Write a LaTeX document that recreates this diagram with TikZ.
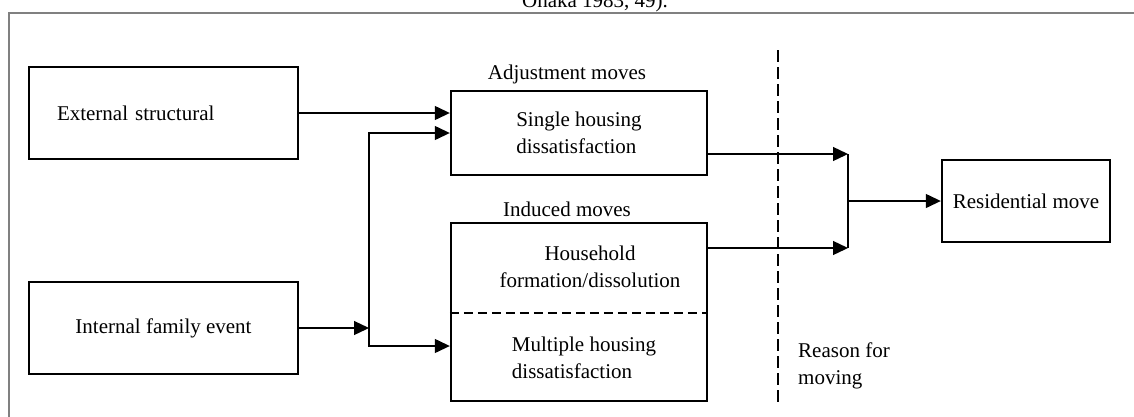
\documentclass[tikz,border=0pt]{standalone}
\usepackage{fontspec}
\setmainfont{Liberation Serif}
\usetikzlibrary{arrows.meta}

\begin{document}
\begin{tikzpicture}[x=1pt, y=-1pt, >={Triangle[length=15pt,width=14pt]},
        font=\fontsize{21}{27}\selectfont,
        box/.style={draw, line width=2.4pt, inner sep=0pt},
        lbl/.style={inner sep=0pt},
        link/.style={line width=1.3pt}]
        \useasboundingbox (0,0) rectangle (1134,416);
        \clip (0,0) rectangle (1134,416);
        % caption remnant and frame
        \node[lbl, anchor=base] (cap) at (595,7) {Ohaka 1983, 49).};
        \draw[line width=2pt, gray] (8.5,500) -- (8.5,12.5) -- (1200,12.5);
        % boxes
        \node[box, minimum width=269pt, minimum height=92pt, text width=213pt, inner xsep=28pt, align=left] (ext) at (163.5,113) {External structural};
        \node[box, minimum width=269pt, minimum height=92pt] (intl) at (163.5,328) {Internal family event};
        \node[box, minimum width=256pt, minimum height=84pt, align=left] (single) at (579,133) {Single housing\\dissatisfaction};
        \node[box, minimum width=256pt, minimum height=178pt] (induced) at (579,312) {};
        \draw[dash pattern=on 9pt off 5pt, line width=1.2pt] (induced.west |- 0,313) -- (induced.east |- 0,313);
        \node[lbl, align=center] (hh) at (590,267) {Household\\formation/dissolution};
        \node[lbl, align=left] (mh) at (584,358) {Multiple housing\\dissatisfaction};
        \node[box, minimum width=168pt, minimum height=82pt] (res) at (1026,201) {Residential move};
        % labels
        \node[lbl] (adj) at (567,74) {Adjustment moves};
        \node[lbl] (ind) at (567,209) {Induced moves};
        \node[lbl, align=left, anchor=west] (why) at (798,366) {Reason for\\moving};
        % divider
        \coordinate (dtop) at (778,50);
        \coordinate (dbot) at (778,402);
        \draw[dash pattern=on 12pt off 5pt, line width=1.2pt] (dtop) -- (dbot);
        % connectors
        \coordinate (j1) at (369,328);
        \coordinate (j2a) at (848,154);
        \coordinate (j2b) at (848,248);
        \coordinate (j2) at (848,201);
        \draw[link,->] (ext.east) -- (ext.east -| single.west);
        \draw[link,->] (intl.east) -- (j1);
        \draw[link,->] (j1) |- (single.west |- 0,133);
        \draw[link,->] (j1) |- (induced.west |- 0,346);
        \draw[link,->] (single.east |- j2a) -- (j2a);
        \draw[link,->] (induced.east |- j2b) -- (j2b);
        \draw[link] (j2a) -- (j2b);
        \draw[link,->] (j2) -- (res.west);
    \end{tikzpicture}
\end{document}
